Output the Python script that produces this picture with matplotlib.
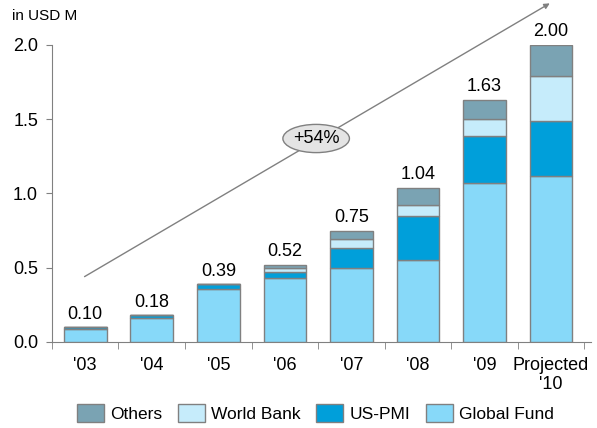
import matplotlib.pyplot as plt
from matplotlib.patches import Ellipse, Patch
import numpy as np

plt.rcParams['font.family'] = ['Liberation Sans', 'DejaVu Sans']

years = ["'03", "'04", "'05", "'06", "'07", "'08", "'09", "Projected\n'10"]
global_fund = [0.09, 0.16, 0.36, 0.43, 0.50, 0.55, 1.07, 1.12]
us_pmi = [0.01, 0.02, 0.03, 0.04, 0.13, 0.30, 0.32, 0.37]
world_bank = [0.00, 0.00, 0.00, 0.03, 0.06, 0.07, 0.11, 0.30]
others = [0.00, 0.00, 0.00, 0.02, 0.06, 0.12, 0.13, 0.21]
totals = [0.10, 0.18, 0.39, 0.52, 0.75, 1.04, 1.63, 2.00]

series = [
    ("Global Fund", global_fund, "#87d9f9"),
    ("US-PMI", us_pmi, "#009fda"),
    ("World Bank", world_bank, "#c6ecfb"),
    ("Others", others, "#7aa3b3"),
]

fig = plt.figure(figsize=(5.97, 4.28), dpi=100)
ax = fig.add_axes([0.087, 0.201, 0.903, 0.694])

x = np.arange(len(years))
bottom = np.zeros(len(years))
for name, vals, col in series:
    ax.bar(x, vals, width=0.64, bottom=bottom, color=col,
           edgecolor="#808080", linewidth=1.0, zorder=3)
    bottom += np.array(vals)

for xi, t in zip(x, totals):
    ax.text(xi, t + 0.03, f"{t:.2f}", ha="center", va="bottom", fontsize=13)

ax.set_xlim(-0.5, 7.6)
ax.set_ylim(0, 2.0)
ax.set_yticks([0, 0.5, 1.0, 1.5, 2.0])
ax.set_yticklabels(["0.0", "0.5", "1.0", "1.5", "2.0"], fontsize=13)

# category labels centred, tick marks on the boundaries
ax.set_xticks(x)
ax.set_xticklabels(years, fontsize=13, linespacing=1.15)
ax.tick_params(axis="x", length=0, pad=11)
ax.set_xticks(np.arange(-0.5, 8, 1.0), minor=True)
ax.tick_params(axis="x", which="minor", length=5, color="#808080")
ax.tick_params(axis="y", length=4, color="#808080", pad=6)

for s in ["top", "right"]:
    ax.spines[s].set_visible(False)
ax.spines["left"].set_color("#808080")
ax.spines["bottom"].set_color("#808080")

fig.text(0.02, 0.962, "in USD M", fontsize=11, va="center")

# growth arrow with CAGR bubble
ax.annotate("", xy=(6.98, 2.28), xytext=(-0.01, 0.44),
            arrowprops=dict(arrowstyle="-|>", color="#808080", lw=1.0,
                            mutation_scale=8, shrinkA=0, shrinkB=0),
            annotation_clip=False, zorder=2)
ax.add_patch(Ellipse((3.47, 1.37), 1.0, 0.19, facecolor="#e4e4e4",
                     edgecolor="#808080", lw=1.0, zorder=4, clip_on=False))
ax.text(3.47, 1.37, "+54%", ha="center", va="center", fontsize=13, zorder=5)

handles = [Patch(facecolor=c, edgecolor="#808080", label=n)
           for n, v, c in series[::-1]]
fig.legend(handles=handles, loc="center", bbox_to_anchor=(0.528, 0.035),
           ncol=4, frameon=False, fontsize=12.5, handlelength=1.55,
           handleheight=1.15, handletextpad=0.36, columnspacing=0.9)

fig.savefig("out.png", dpi=100)
